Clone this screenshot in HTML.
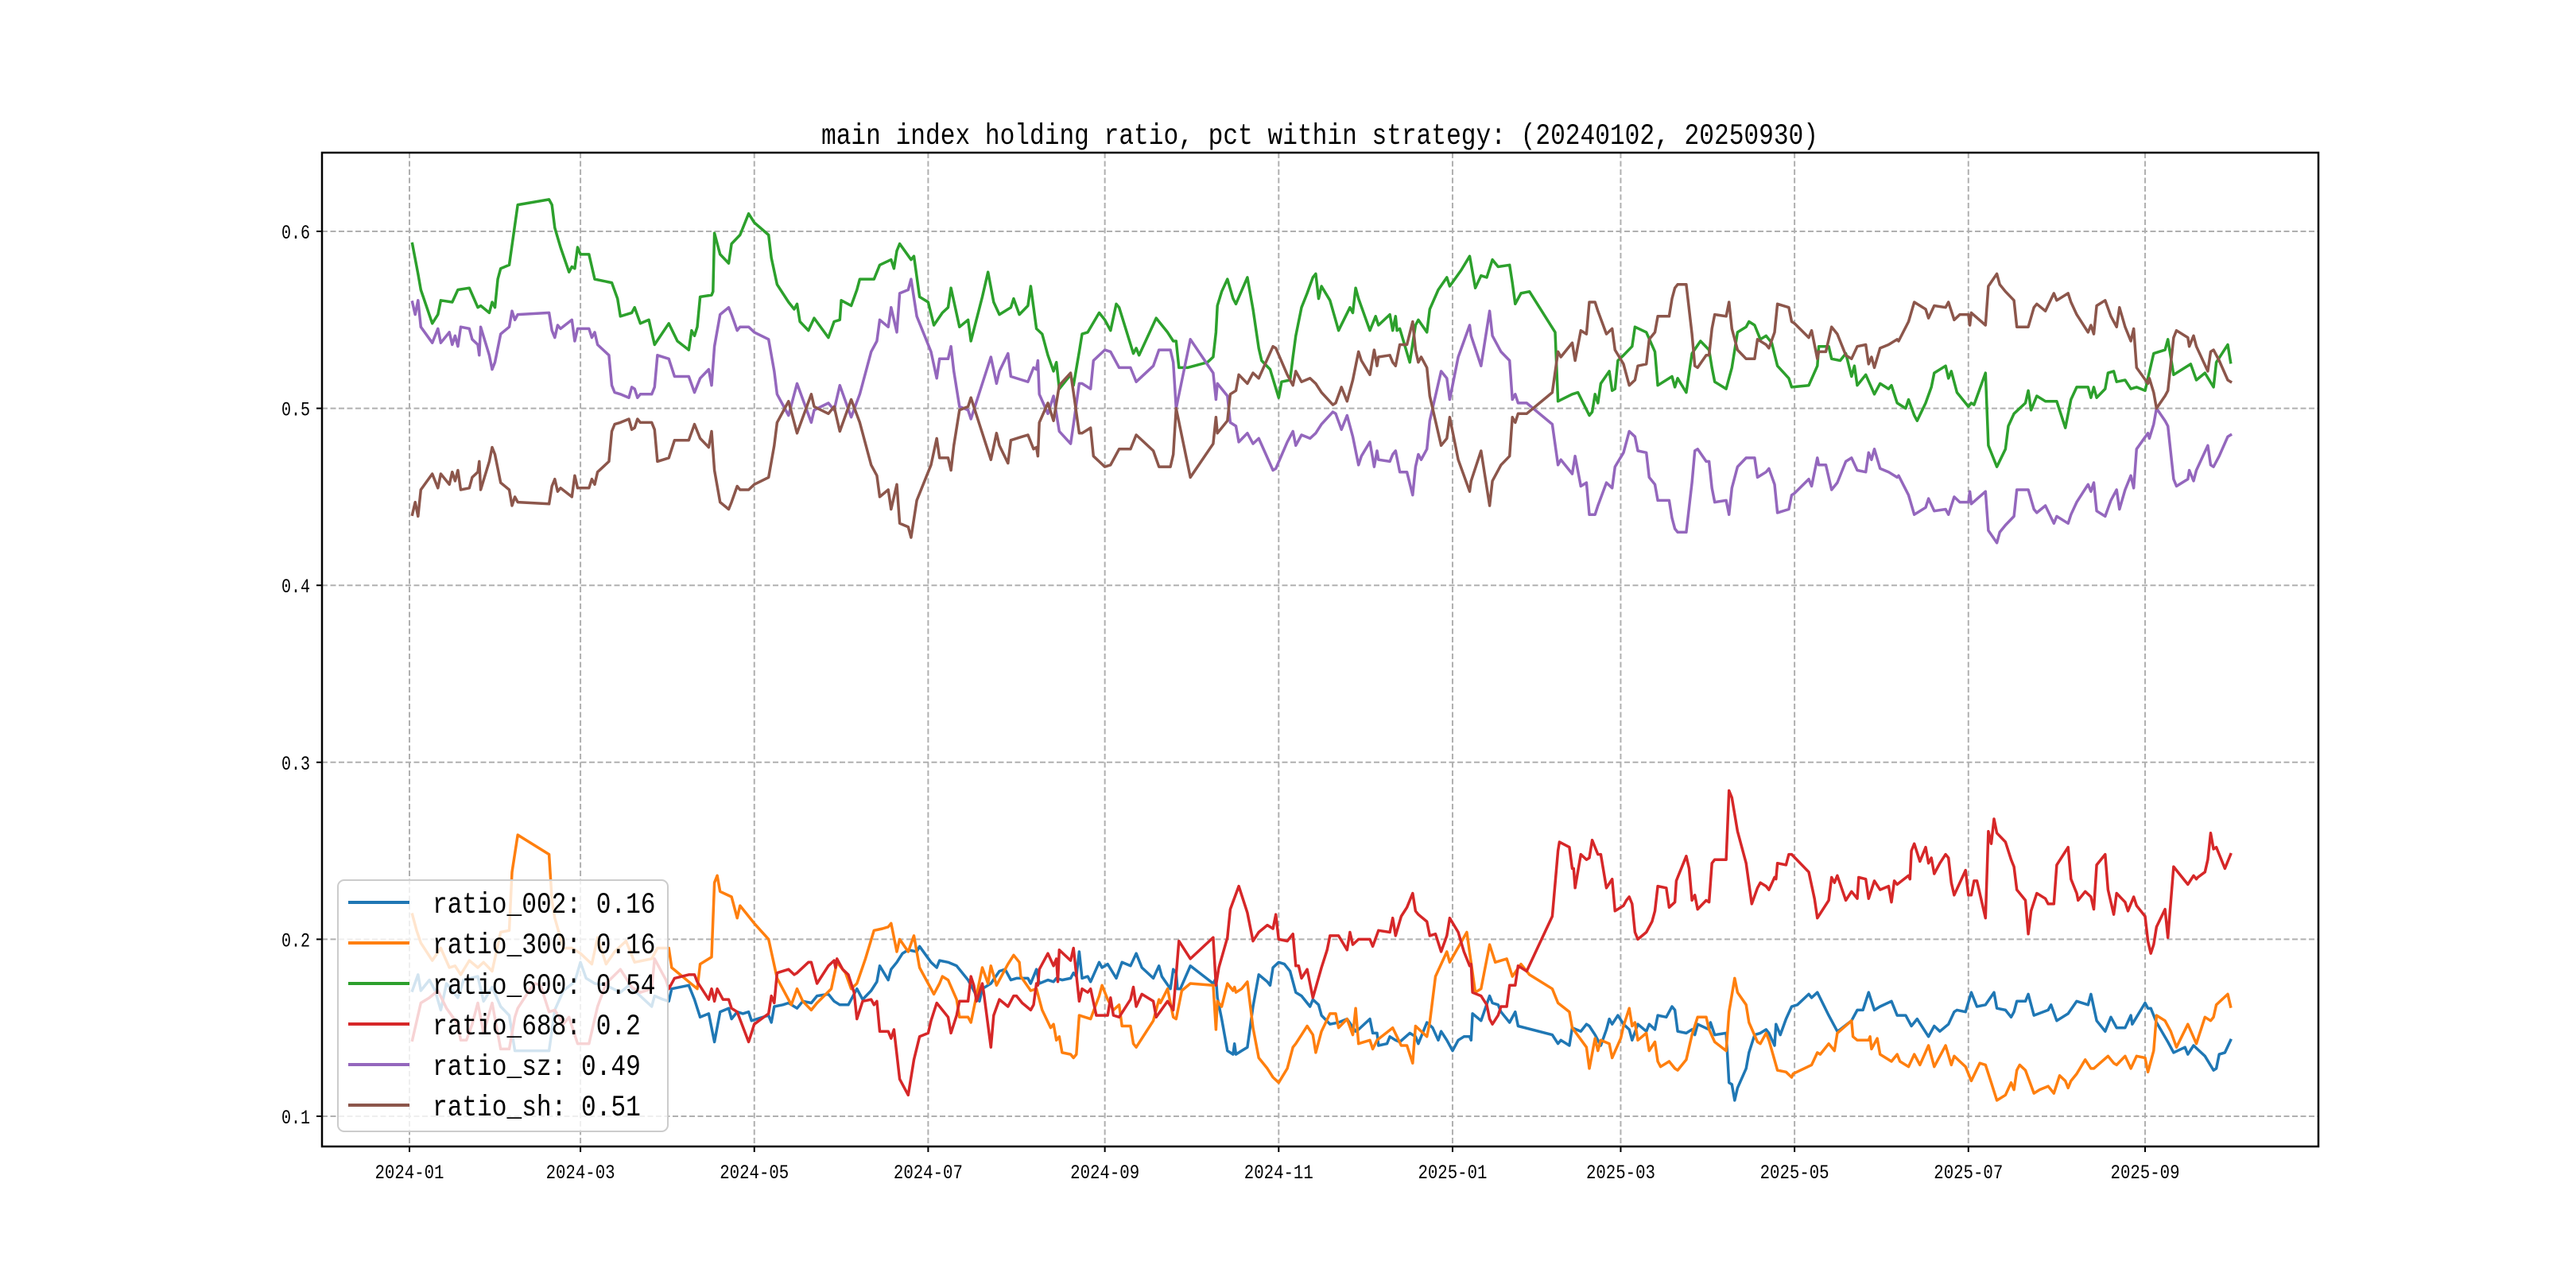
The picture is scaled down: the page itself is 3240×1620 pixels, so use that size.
<!DOCTYPE html>
<html><head><meta charset="utf-8"><style>
html,body{margin:0;padding:0;background:#fff;}
svg{display:block;}
text{font-family:"Liberation Mono","WenQuanYi Zen Hei",monospace;fill:#000;}
</style></head><body>
<svg id="chart" width="3240" height="1620" viewBox="0 0 3240 1620" xmlns="http://www.w3.org/2000/svg">
<rect x="0" y="0" width="3240" height="1620" fill="#fff"/>
<text x="1660" y="181" text-anchor="middle" font-size="37" textLength="1254" lengthAdjust="spacingAndGlyphs">main index holding ratio, pct within strategy: (20240102, 20250930)</text>
<g id="grid"></g>
<g id="series"></g>
<rect x="405" y="192" width="2511" height="1250" fill="none" stroke="#000" stroke-width="2.5"/>
<g id="axes"></g>
<g id="legend"></g>
</svg>
<script>
// x = day offset from 2024-01-01, y = ratio value
const xTickDays = [0,60,121,182,244,305,366,425,486,547,609];
const xTickLabels = ["2024-01","2024-03","2024-05","2024-07","2024-09","2024-11","2025-01","2025-03","2025-05","2025-07","2025-09"];
const yTicks = [0.1,0.2,0.3,0.4,0.5,0.6];
const yTickLabels = ["0.1","0.2","0.3","0.4","0.5","0.6"];
const seriesNames = ["ratio_002","ratio_300","ratio_600","ratio_688","ratio_sz","ratio_sh"];
const legendValues = ["0.16","0.16","0.54","0.2","0.49","0.51"];
const seriesColors = ["#1f77b4","#ff7f0e","#2ca02c","#d62728","#9467bd","#8c564b"];

const r002 = [[1,.171],[3,.180],[4,.171],[7,.177],[9,.171],[11,.160],[13,.175],[17,.167],[19,.177],[24,.179],[26,.165],[29,.173],[32,.162],[35,.157],[37,.137],[49,.137],[51,.160],[54,.171],[58,.176],[60,.187],[62,.178],[65,.175],[69,.174],[74,.170],[77,.174],[79,.171],[85,.162],[86,.168],[89,.166],[91,.165],[92,.172],[98,.174],[100,.166],[102,.156],[105,.158],[107,.142],[109,.159],[112,.161],[113,.155],[115,.159],[117,.158],[119,.159],[120,.154],[126,.157],[127,.153],[128,.162],[131,.163],[133,.164],[136,.161],[138,.165],[141,.164],[143,.168],[147,.169],[149,.165],[151,.163],[154,.163],[157,.172],[159,.166],[162,.171],[164,.176],[165,.185],[168,.177],[169,.183],[171,.187],[173,.192],[175,.194],[178,.193],[179,.196],[183,.187],[185,.184],[186,.188],[189,.187],[192,.185],[196,.177],[200,.165],[201,.172],[204,.175],[207,.182],[209,.183],[211,.177],[213,.178],[217,.178],[218,.175],[220,.183],[221,.175],[224,.177],[226,.176],[227,.178],[229,.177],[232,.178],[233,.181],[234,.179],[235,.193],[236,.178],[238,.179],[239,.176],[242,.187],[243,.184],[245,.186],[248,.178],[250,.187],[253,.185],[255,.192],[257,.184],[261,.178],[263,.185],[264,.179],[267,.172],[268,.183],[269,.181],[269.5,.172],[270.5,.172],[274,.185],[282,.175],[283,.178],[283.5,.167],[285,.155],[287,.137],[289,.135],[289.5,.141],[290,.135],[292,.137],[294,.139],[296,.162],[298,.180],[301,.176],[302,.174],[303,.184],[305,.187],[307,.186],[309,.182],[311,.170],[313,.168],[316,.162],[317,.166],[319,.163],[320,.157],[323,.152],[326,.153],[329,.155],[332,.148],[333,.149],[337,.155],[338,.147],[339.5,.147],[340,.140],[343,.141],[344,.145],[346,.143],[347.5,.142],[351,.147],[353,.145],[354,.141],[357,.153],[359,.150],[361,.143],[362,.148],[364,.143],[366,.137],[368,.143],[370,.145],[372,.145],[372.5,.143],[373,.158],[376,.154],[379,.168],[380,.164],[382,.163],[383,.159],[386,.153],[388,.159],[389,.151],[401,.146],[403,.141],[404,.143],[407,.140],[408,.150],[411,.148],[413,.152],[414,.151],[416,.146],[418,.140],[420,.149],[421,.155],[422,.152],[424,.157],[426,.152],[428,.149],[429,.143],[431,.152],[434,.148],[435,.152],[437,.149],[438,.157],[441,.156],[443,.162],[444,.160],[445,.148],[448,.147],[450,.149],[451,.146],[452,.152],[456,.149],[456.5,.153],[458,.146],[462,.147],[463,.119],[464,.118],[465,.109],[466,.116],[469,.127],[470,.136],[472,.146],[474,.147],[476,.149],[477,.147],[479,.140],[479.5,.152],[481,.146],[483,.155],[485,.162],[487,.163],[491,.169],[492,.167],[494,.170],[498,.157],[501,.148],[502,.149],[506,.154],[508,.160],[510,.160],[512,.170],[514,.160],[516,.162],[520,.165],[522,.157],[525,.157],[527,.151],[529,.155],[533,.145],[535,.151],[537,.148],[540,.152],[542,.159],[543,.160],[546,.159],[548,.170],[550,.162],[553,.163],[556,.170],[557,.161],[560,.160],[562,.156],[563,.159],[564,.165],[567,.165],[568,.169],[570,.157],[575,.160],[576,.163],[578,.154],[582,.158],[585,.165],[589,.163],[590,.169],[592,.154],[595,.148],[597,.156],[599,.150],[602,.150],[604,.157],[604.5,.152],[609,.164],[610,.161],[611,.161],[613,.153],[617,.142],[619,.136],[623,.139],[624,.135],[626,.140],[630,.134],[633,.126],[634,.127],[635,.135],[637,.136],[639,.143]];

const r300 = [[1,.214],[2.5,.205],[4,.198],[8,.188],[11,.195],[14,.184],[16,.185],[18,.180],[21,.188],[24,.184],[26,.187],[29,.182],[32,.204],[35,.205],[36,.238],[38,.259],[49,.248],[50,.222],[51,.212],[54,.195],[57,.195],[60,.192],[64,.186],[66,.201],[69,.186],[72,.193],[76,.199],[79,.187],[85,.189],[87,.195],[91,.195],[92,.184],[98,.176],[101,.172],[102,.186],[106,.190],[107,.232],[108,.236],[109,.227],[113,.224],[115,.212],[116,.219],[121,.209],[126,.200],[129,.178],[134,.163],[136,.172],[138,.165],[141,.160],[143,.164],[148,.172],[150,.187],[153,.181],[155,.172],[157,.175],[160,.189],[163,.205],[166,.206],[168,.207],[169,.209],[171,.193],[172,.200],[175,.193],[177,.202],[179,.184],[182,.175],[184,.169],[186,.175],[187,.179],[189,.177],[192,.166],[193,.156],[196,.156],[197,.153],[201,.184],[203,.175],[204,.185],[206,.174],[210,.186],[212,.191],[214,.187],[214.5,.179],[218,.171],[220,.172],[222,.160],[225,.150],[226,.152],[227,.143],[228,.145],[229,.136],[232,.135],[233,.133],[234,.135],[235,.157],[239,.155],[242,.168],[243,.174],[245,.166],[247,.160],[249,.163],[250,.151],[253,.151],[254,.141],[255,.139],[261,.154],[263,.166],[263.5,.164],[266,.172],[268,.156],[269,.155],[271,.171],[274,.175],[282,.174],[283,.149],[283.5,.165],[285,.162],[287,.175],[289,.171],[289.5,.173],[290,.170],[292,.172],[294,.176],[296,.150],[298,.133],[301,.127],[303,.122],[305,.119],[308,.127],[310,.139],[311,.141],[313,.146],[315,.151],[317,.146],[318,.136],[320,.148],[323,.158],[325,.158],[326,.150],[329,.155],[331,.146],[332,.161],[333,.141],[337,.143],[338,.138],[339.5,.143],[345,.150],[348,.140],[350,.140],[352,.130],[353,.151],[357,.145],[358,.153],[360,.179],[364,.193],[365,.187],[371,.204],[374,.170],[376,.172],[379,.197],[381,.187],[385,.189],[387,.179],[390,.186],[393,.180],[401,.172],[403,.164],[407,.159],[408,.150],[413,.139],[414,.127],[416,.144],[417,.137],[418,.143],[421,.141],[422,.133],[425,.144],[426,.151],[428,.161],[429,.151],[430,.153],[431,.143],[434,.147],[435,.137],[437,.142],[438,.131],[439,.128],[442,.131],[444,.127],[445,.126],[448,.132],[450,.146],[452,.156],[455,.156],[456,.149],[458,.142],[462,.137],[463,.159],[465,.178],[466,.170],[469,.163],[470,.153],[473,.142],[474,.141],[476,.147],[477,.143],[480,.126],[483,.125],[485,.122],[485.5,.124],[492,.129],[494,.136],[495,.135],[498,.141],[500,.137],[501,.147],[506,.154],[506.5,.145],[508,.143],[512,.143],[512.5,.145],[513,.138],[515,.144],[516,.135],[520,.131],[522,.135],[523,.131],[526,.128],[528,.135],[530,.129],[533,.140],[535,.128],[539,.140],[541,.129],[542,.134],[544,.131],[546,.128],[548,.120],[551,.130],[553,.129],[555,.119],[557,.109],[560,.112],[562,.119],[563,.115],[564,.126],[565,.129],[567,.126],[570,.113],[572,.115],[575,.117],[577,.113],[579,.123],[581,.120],[582,.116],[583,.120],[585,.124],[588,.132],[590,.127],[591,.127],[596,.134],[598,.130],[599,.129],[602,.134],[604,.127],[606,.134],[609,.133],[610,.125],[612,.137],[613,.157],[616,.154],[618,.148],[620,.139],[624,.152],[627,.141],[630,.156],[632,.154],[633,.156],[634,.163],[638,.169],[639,.162]];

const r600 = [[1,.593],[3,.576],[4,.567],[8,.548],[10,.553],[11,.561],[15,.560],[17,.567],[21,.568],[24,.557],[25,.558],[28,.554],[29,.560],[30,.557],[31,.573],[32,.579],[35,.581],[38,.615],[49,.618],[50,.615],[51,.602],[53,.591],[56,.577],[57,.580],[58,.579],[59,.591],[60,.587],[63,.587],[65,.573],[71,.571],[73,.562],[74,.552],[78,.554],[79,.557],[81,.548],[84,.550],[86,.536],[91,.548],[94,.538],[98,.533],[99,.544],[100,.541],[101,.546],[102,.563],[106,.564],[106.5,.566],[107,.599],[109,.587],[112,.582],[113,.593],[116,.598],[119,.610],[121,.605],[126,.598],[127,.585],[129,.570],[133,.560],[135,.556],[136,.559],[137,.549],[140,.544],[142,.551],[147,.540],[149,.549],[151,.550],[151.5,.561],[155,.558],[157,.567],[158,.573],[163,.573],[165,.581],[169,.584],[170,.579],[171,.589],[172,.593],[176,.584],[177,.586],[179,.563],[182,.560],[184,.547],[187,.554],[189,.557],[190,.568],[193,.546],[196,.550],[197,.538],[201,.563],[203,.577],[205,.560],[207,.553],[211,.557],[212,.562],[214,.553],[217,.558],[218,.569],[220,.545],[222,.542],[224,.530],[226,.521],[227,.526],[228,.511],[232,.519],[233,.513],[235,.532],[236,.542],[238,.543],[242,.554],[244,.550],[246,.544],[248,.559],[249,.557],[254,.531],[255,.534],[256,.530],[262,.551],[266,.543],[268,.538],[269,.538],[270,.523],[273,.523],[280,.526],[282,.529],[283,.543],[283.5,.558],[285,.566],[287,.573],[289,.562],[290,.559],[294,.574],[296,.556],[298,.534],[299,.527],[302,.522],[305,.506],[306,.515],[309,.516],[310,.529],[311,.541],[313,.557],[315,.565],[317,.574],[318,.576],[319,.562],[320,.569],[323,.561],[326,.544],[330,.557],[331,.554],[332,.568],[333,.562],[337,.544],[339,.552],[340,.547],[344,.553],[345,.544],[346,.552],[346.5,.544],[347.5,.545],[351,.526],[353,.547],[354,.550],[357,.543],[358,.556],[361,.567],[364,.574],[365,.569],[369,.578],[372,.586],[374,.568],[376,.575],[378,.574],[380,.584],[382,.580],[386,.581],[387,.571],[388,.559],[390,.565],[393,.566],[402,.543],[403,.504],[408,.508],[410,.509],[414,.496],[415,.498],[416,.508],[417,.503],[418,.514],[421,.521],[422,.510],[423,.511],[424,.527],[426,.530],[429,.535],[430,.546],[434,.543],[437,.532],[438,.513],[443,.518],[444,.512],[445,.517],[448,.509],[450,.531],[453,.538],[456,.533],[457,.523],[458,.515],[462,.511],[464,.523],[466,.543],[469,.546],[470,.549],[472,.547],[474,.539],[476,.541],[478,.537],[480,.524],[484,.517],[485,.512],[491,.513],[494,.524],[494.5,.535],[498,.535],[499,.528],[502,.527],[504,.531],[506,.518],[507,.524],[508,.513],[511,.519],[514,.508],[516,.514],[519,.511],[520,.513],[522,.503],[525,.500],[526,.505],[528,.496],[529,.493],[532,.503],[534,.512],[535,.520],[539,.524],[540,.517],[541,.521],[543,.509],[547,.501],[548,.503],[549,.502],[553,.520],[554,.479],[557,.467],[560,.477],[561,.490],[563,.497],[567,.503],[568,.510],[569,.499],[571,.507],[574,.504],[578,.504],[581,.489],[583,.505],[585,.512],[589,.512],[590,.506],[591,.512],[592,.506],[595,.511],[596,.520],[598,.521],[599,.515],[602,.516],[604,.511],[606,.512],[609,.510],[612,.531],[616,.533],[617,.539],[619,.519],[625,.525],[627,.516],[630,.520],[633,.512],[634,.526],[638,.536],[639,.526]];

const r688 = [[1,.143],[4,.164],[7,.167],[10,.171],[13,.161],[17,.152],[18,.143],[20,.143],[22,.152],[24,.164],[26,.147],[29,.164],[32,.138],[35,.138],[37,.156],[38,.161],[42,.171],[44,.175],[46,.174],[49,.159],[51,.160],[54,.152],[56,.156],[59,.141],[63,.141],[66,.162],[69,.175],[74,.183],[78,.173],[81,.170],[85,.172],[86,.189],[90,.177],[91,.172],[93,.178],[98,.180],[100,.180],[101,.176],[105,.166],[106,.172],[107,.165],[108,.172],[110,.166],[112,.166],[113,.161],[115,.159],[119,.142],[121,.152],[126,.158],[127,.168],[128,.164],[129,.181],[133,.183],[135,.180],[136,.181],[140,.187],[141,.187],[143,.175],[147,.185],[149,.188],[149.5,.184],[150,.189],[152,.183],[154,.180],[156,.170],[157,.155],[159,.165],[162,.166],[163,.163],[164,.165],[165,.148],[168,.148],[169,.144],[170,.149],[172,.121],[175,.112],[177,.132],[179,.145],[182,.147],[183,.154],[185,.164],[189,.156],[190,.147],[192,.157],[193,.165],[196,.165],[197,.179],[198,.174],[199,.165],[201,.175],[201.5,.170],[204,.139],[205,.157],[207,.166],[210,.162],[212,.168],[213,.168],[215,.164],[218,.160],[219,.163],[220,.175],[220.5,.174],[221,.183],[224,.192],[226,.185],[227,.189],[227.5,.176],[228,.194],[232,.188],[233,.195],[235,.165],[236,.172],[238,.170],[239,.172],[241,.157],[245,.157],[246,.167],[247,.157],[249,.156],[253,.166],[254,.173],[255,.162],[257,.169],[261,.165],[262,.156],[266,.165],[268,.160],[270,.199],[274,.189],[282,.201],[283,.174],[284,.184],[287,.201],[288,.217],[291,.230],[294,.215],[296,.199],[298,.204],[301,.208],[303,.206],[304,.214],[305,.200],[308,.199],[310,.203],[311,.185],[312,.185],[313,.178],[315,.183],[317,.167],[320,.184],[322,.194],[323,.202],[326,.202],[329,.194],[330,.204],[331,.197],[333,.200],[337,.200],[338,.196],[340,.205],[344,.204],[345,.212],[346,.202],[348,.213],[350,.218],[352,.226],[353,.216],[354,.214],[357,.210],[358,.202],[360,.203],[362,.193],[364,.202],[365,.212],[368,.204],[370,.193],[372,.185],[372.5,.186],[373,.170],[376,.168],[378,.163],[379,.155],[380,.152],[382,.157],[383,.162],[385,.162],[386,.174],[388,.174],[389,.185],[392,.182],[401,.213],[403,.250],[403.5,.255],[407,.252],[408,.240],[408.5,.240],[409,.229],[411,.248],[413,.245],[414,.246],[415,.256],[417,.248],[418,.248],[420,.229],[422,.234],[423,.216],[426,.219],[427,.222],[428,.224],[429,.220],[430,.204],[431,.200],[434,.204],[436,.210],[437,.216],[438,.230],[441,.229],[442,.218],[444,.221],[444.5,.233],[445,.235],[448,.247],[449,.240],[450,.222],[451,.225],[452,.217],[455,.222],[456,.221],[457,.243],[458,.245],[462,.245],[463,.284],[464,.280],[466,.261],[469,.243],[471,.220],[473,.229],[474,.232],[476,.230],[477,.228],[479,.235],[479.5,.234],[480,.243],[483,.242],[484,.248],[485,.248],[491,.238],[493,.223],[494,.212],[498,.222],[499,.235],[500,.232],[501,.236],[504,.222],[506,.227],[508,.223],[508.5,.235],[511,.234],[512,.223],[514,.233],[516,.228],[519,.230],[520,.221],[521,.233],[522,.231],[526,.236],[526.5,.234],[527,.250],[528,.254],[530,.244],[532,.252],[533,.243],[534,.246],[535,.237],[537,.243],[539,.248],[540,.246],[541,.232],[542,.225],[546,.239],[547,.225],[548,.225],[549,.233],[550,.233],[553,.212],[554,.261],[555,.254],[556,.268],[557,.260],[560,.255],[562,.245],[563,.241],[564,.228],[567,.222],[568,.203],[569,.216],[571,.226],[574,.223],[575,.220],[577,.220],[578,.242],[582,.252],[583,.234],[585,.226],[585.5,.222],[588,.227],[590,.224],[591,.217],[592,.242],[595,.248],[596,.228],[598,.214],[599,.226],[602,.221],[603,.216],[605,.224],[606,.219],[609,.213],[610,.199],[611,.192],[612,.197],[613,.207],[616,.217],[617,.201],[619,.241],[621,.237],[624,.231],[626,.236],[627,.234],[627.5,.235],[630,.238],[631,.245],[632,.260],[633,.251],[634,.252],[637,.240],[639,.248]];

const rSz = [[1,.560],[2,.553],[3,.561],[4,.546],[8,.537],[10,.545],[11,.537],[14,.543],[15,.536],[16,.541],[17,.535],[18,.546],[21,.545],[22,.539],[24,.536],[24.5,.530],[25,.546],[28,.530],[29,.522],[30,.526],[32,.542],[35,.546],[36,.555],[37,.550],[38,.553],[49,.554],[50,.544],[51,.540],[52,.547],[53,.545],[57,.550],[58,.538],[59,.545],[63,.545],[64,.540],[65,.543],[66,.536],[70,.530],[71,.513],[72,.509],[74,.508],[77,.506],[78,.512],[79,.511],[80,.506],[81,.508],[85,.508],[86,.512],[87,.530],[91,.528],[93,.518],[98,.518],[100,.509],[102,.517],[105,.522],[106,.513],[107,.535],[109,.553],[112,.557],[113,.553],[115,.544],[116,.546],[119,.546],[121,.543],[126,.539],[128,.521],[129,.508],[133,.496],[136,.514],[141,.492],[142,.499],[147,.503],[149,.499],[151,.513],[155,.495],[158,.508],[162,.532],[164,.538],[165,.550],[168,.546],[169,.557],[171,.543],[172,.565],[175,.567],[176,.573],[178,.552],[183,.532],[185,.517],[186,.528],[189,.528],[190,.535],[191,.521],[193,.501],[196,.499],[197,.494],[200,.509],[204,.529],[206,.514],[207,.521],[210,.531],[211,.518],[215,.516],[217,.515],[219,.523],[220,.522],[220.5,.527],[221,.508],[224,.497],[226,.507],[227,.497],[228,.487],[232,.480],[233,.491],[235,.514],[236,.514],[239,.511],[240,.527],[244,.533],[246,.532],[249,.523],[253,.523],[255,.515],[261,.524],[263,.533],[267,.533],[268,.526],[269,.500],[274,.539],[282,.520],[283,.505],[283.5,.514],[287,.507],[288,.492],[290,.490],[291,.481],[294,.486],[296,.480],[298,.483],[303,.465],[304,.466],[308,.481],[310,.487],[311,.479],[313,.485],[316,.483],[318,.486],[320,.491],[324,.498],[325,.497],[327,.488],[329,.496],[331,.484],[333,.468],[334,.473],[337,.481],[338.5,.467],[339.5,.476],[340,.471],[344,.470],[345,.474],[346,.476],[347.5,.464],[350,.464],[352,.451],[353,.467],[354,.474],[355,.471],[357,.477],[358,.493],[362,.521],[364,.517],[365,.505],[368,.529],[372,.547],[372.5,.541],[376,.524],[379,.555],[380,.541],[383,.532],[386,.527],[387,.505],[388,.508],[389,.503],[392,.503],[401,.491],[403,.468],[404,.471],[408,.463],[409,.473],[411,.456],[413,.458],[414,.440],[416,.440],[417,.445],[420,.458],[422,.455],[423,.467],[426,.475],[428,.487],[430,.484],[431,.476],[434,.475],[435,.461],[437,.457],[438,.448],[442,.448],[443,.438],[444,.432],[445,.430],[448,.430],[450,.458],[451,.476],[452,.477],[455,.470],[456,.470],[457,.455],[458,.447],[462,.448],[463,.440],[464,.455],[466,.467],[469,.472],[472,.472],[473,.461],[476,.464],[477,.466],[479,.457],[480,.441],[484,.443],[485,.451],[486,.452],[491,.460],[492,.456],[494,.472],[494.5,.468],[497,.468],[499,.454],[501,.458],[504,.470],[506,.472],[508,.465],[511,.464],[512,.475],[513,.471],[514,.477],[516,.466],[519,.464],[522,.461],[522.5,.462],[526,.451],[528,.440],[532,.444],[533,.449],[535,.442],[539,.443],[540,.440],[542,.450],[544,.447],[547,.447],[547.5,.453],[548,.446],[553,.453],[554,.431],[557,.424],[558,.430],[560,.434],[563,.439],[564,.454],[568,.454],[570,.443],[571,.441],[574,.445],[577,.435],[578,.439],[582,.435],[583,.440],[585,.447],[589,.457],[590,.453],[591,.458],[592,.442],[595,.439],[597,.448],[599,.454],[600,.443],[602,.454],[604,.462],[605,.455],[606,.477],[610,.486],[610.5,.483],[612,.491],[613,.500],[616,.493],[617,.490],[619,.460],[620,.456],[624,.460],[624.5,.465],[626,.459],[627,.465],[631,.479],[632,.468],[633,.467],[635,.473],[638,.484],[639,.485]];

const rSh = [[1,.440],[2,.447],[3,.439],[4,.454],[8,.463],[10,.455],[11,.463],[14,.457],[15,.464],[16,.459],[17,.465],[18,.454],[21,.455],[22,.461],[24,.464],[24.5,.470],[25,.454],[28,.470],[29,.478],[30,.474],[32,.458],[35,.454],[36,.445],[37,.450],[38,.447],[49,.446],[50,.456],[51,.460],[52,.453],[53,.455],[57,.450],[58,.462],[59,.455],[63,.455],[64,.460],[65,.457],[66,.464],[70,.470],[71,.487],[72,.491],[74,.492],[77,.494],[78,.488],[79,.489],[80,.494],[81,.492],[85,.492],[86,.488],[87,.470],[91,.472],[93,.482],[98,.482],[100,.491],[102,.483],[105,.478],[106,.487],[107,.465],[109,.447],[112,.443],[113,.447],[115,.456],[116,.454],[119,.454],[121,.457],[126,.461],[128,.479],[129,.492],[133,.504],[136,.486],[141,.508],[142,.501],[147,.497],[149,.501],[151,.487],[155,.505],[158,.492],[162,.468],[164,.462],[165,.450],[168,.454],[169,.443],[171,.457],[172,.435],[175,.433],[176,.427],[178,.448],[183,.468],[185,.483],[186,.472],[189,.472],[190,.465],[191,.479],[193,.499],[196,.501],[197,.506],[200,.491],[204,.471],[206,.486],[207,.479],[210,.469],[211,.482],[215,.484],[217,.485],[219,.477],[220,.478],[220.5,.473],[221,.492],[224,.503],[226,.493],[227,.503],[228,.513],[232,.520],[233,.509],[235,.486],[236,.486],[239,.489],[240,.473],[244,.467],[246,.468],[249,.477],[253,.477],[255,.485],[261,.476],[263,.467],[267,.467],[268,.474],[269,.500],[274,.461],[282,.480],[283,.495],[283.5,.486],[287,.493],[288,.508],[290,.510],[291,.519],[294,.514],[296,.520],[298,.517],[303,.535],[304,.534],[308,.519],[310,.513],[311,.521],[313,.515],[316,.517],[318,.514],[320,.509],[324,.502],[325,.503],[327,.512],[329,.504],[331,.516],[333,.532],[334,.527],[337,.519],[338.5,.533],[339.5,.524],[340,.529],[344,.530],[345,.526],[346,.524],[347.5,.536],[350,.536],[352,.549],[353,.533],[354,.526],[355,.529],[357,.523],[358,.507],[362,.479],[364,.483],[365,.495],[368,.471],[372,.453],[372.5,.459],[376,.476],[379,.445],[380,.459],[383,.468],[386,.473],[387,.495],[388,.492],[389,.497],[392,.497],[401,.509],[403,.532],[404,.529],[408,.537],[409,.527],[411,.544],[413,.542],[414,.560],[416,.560],[417,.555],[420,.542],[422,.545],[423,.533],[426,.525],[428,.513],[430,.516],[431,.524],[434,.525],[435,.539],[437,.543],[438,.552],[442,.552],[443,.562],[444,.568],[445,.570],[448,.570],[450,.542],[451,.524],[452,.523],[455,.530],[456,.530],[457,.545],[458,.553],[462,.552],[463,.560],[464,.545],[466,.533],[469,.528],[472,.528],[473,.539],[476,.536],[477,.534],[479,.543],[480,.559],[484,.557],[485,.549],[486,.548],[491,.540],[492,.544],[494,.528],[494.5,.532],[497,.532],[499,.546],[501,.542],[504,.530],[506,.528],[508,.535],[511,.536],[512,.525],[513,.529],[514,.523],[516,.534],[519,.536],[522,.539],[522.5,.538],[526,.549],[528,.560],[532,.556],[533,.551],[535,.558],[539,.557],[540,.560],[542,.550],[544,.553],[547,.553],[547.5,.547],[548,.554],[553,.547],[554,.569],[557,.576],[558,.570],[560,.566],[563,.561],[564,.546],[568,.546],[570,.557],[571,.559],[574,.555],[577,.565],[578,.561],[582,.565],[583,.560],[585,.553],[589,.543],[590,.547],[591,.542],[592,.558],[595,.561],[597,.552],[599,.546],[600,.557],[602,.546],[604,.538],[605,.545],[606,.523],[610,.514],[610.5,.517],[612,.509],[613,.500],[616,.507],[617,.510],[619,.540],[620,.544],[624,.540],[624.5,.535],[626,.541],[627,.535],[631,.521],[632,.532],[633,.533],[635,.527],[638,.516],[639,.515]];

const allSeries = [r002, r300, r600, r688, rSz, rSh];

const NS = "http://www.w3.org/2000/svg";
const PL = 405, PR = 2916, PT = 192, PB = 1442;
function xScale(d){ return 515 + d * 3.5846; }
function yScale(v){ return 1404 - (v - 0.1) * 2226; }

const grid = document.getElementById('grid');
const axes = document.getElementById('axes');
const seriesG = document.getElementById('series');
const legend = document.getElementById('legend');

function mk(tag, attrs){ const e = document.createElementNS(NS, tag); for (const k in attrs) e.setAttribute(k, attrs[k]); return e; }

xTickDays.forEach((d, i) => {
  const x = xScale(d);
  const gl = mk('line', {x1:x, y1:PT, x2:x, y2:PB, stroke:'#b0b0b0', 'stroke-width':2, 'stroke-dasharray':'7,3.5'});
  
  
  grid.appendChild(gl);
  const tk = mk('line', {x1:x, y1:PB, x2:x, y2:PB + 7, stroke:'#000', 'stroke-width':2});
  
  
  axes.appendChild(tk);
  const t = mk('text', {x:x, y:PB + 40, 'text-anchor':'middle', 'font-size':25, textLength:87, lengthAdjust:'spacingAndGlyphs'});
  t.textContent = xTickLabels[i];
  
  
  axes.appendChild(t);
});
yTicks.forEach((v, i) => {
  const y = yScale(v);
  const gl = mk('line', {x1:PL, y1:y, x2:PR, y2:y, stroke:'#b0b0b0', 'stroke-width':2, 'stroke-dasharray':'7,3.5'});
  
  
  grid.appendChild(gl);
  const tk = mk('line', {x1:PL - 7, y1:y, x2:PL, y2:y, stroke:'#000', 'stroke-width':2});
  
  
  axes.appendChild(tk);
  const t = mk('text', {x:PL - 15, y:y + 9, 'text-anchor':'end', 'font-size':25, textLength:36, lengthAdjust:'spacingAndGlyphs'});
  t.textContent = yTickLabels[i];
  
  
  axes.appendChild(t);
});

allSeries.forEach((s, i) => {
  const pts = s.map(p => xScale(p[0]).toFixed(1) + ',' + yScale(p[1]).toFixed(1)).join(' ');
  const pl = mk('polyline', {points:pts, fill:'none', stroke:seriesColors[i], 'stroke-width':3.5, 'stroke-linejoin':'round', 'stroke-linecap':'square'});
  
  
  seriesG.appendChild(pl);
});

const box = mk('rect', {x:425, y:1107, width:415, height:316, rx:8, ry:8, fill:'#fff', 'fill-opacity':0.8, stroke:'#cccccc', 'stroke-width':2});


legend.appendChild(box);
seriesNames.forEach((n, i) => {
  const y = 1135 + i * 51;
  const ln = mk('line', {x1:438, y1:y, x2:515, y2:y, stroke:seriesColors[i], 'stroke-width':4});
  
  
  legend.appendChild(ln);
  const label = n + ': ' + legendValues[i];
  const t = mk('text', {x:544, y:y + 13, 'font-size':37, textLength:(label.length * 18.7).toFixed(1), lengthAdjust:'spacingAndGlyphs'});
  t.textContent = label;
  
  
  legend.appendChild(t);
});
</script>
</body></html>
